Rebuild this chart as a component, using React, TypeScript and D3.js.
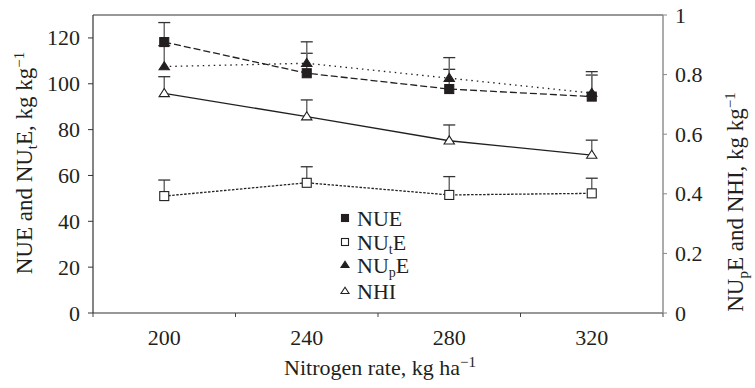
import React, { useEffect } from "react";
import * as d3 from "d3";

const rates = [200, 240, 280, 320];
const nue = [118.2, 104.6, 97.7, 94.4];
const nueErr = [8.5, 8.7, 8.6, 9.4];
const nute = [51.0, 56.8, 51.5, 52.2];
const nuteErr = [7.0, 7.0, 8.0, 6.6];
const nupe = [0.827, 0.838, 0.788, 0.738];
const nupeErr = [0.07, 0.072, 0.069, 0.072];
const nhi = [0.737, 0.659, 0.578, 0.53];
const nhiErr = [0.056, 0.056, 0.053, 0.05];

const xTickMarks = [180, 220, 260, 300, 340];
const xTickLabels = [200, 240, 280, 320];
const leftTicks = [0, 20, 40, 60, 80, 100, 120];
const rightTicks = [0, 0.2, 0.4, 0.6, 0.8, 1];

const W = 755, H = 388;
const L = 93, R = 663, T = 15, B = 313;
const INK = "#231f20";
const FF = '"Liberation Serif"';
const TS = { fontFamily: FF };

function T2(props: any) {
  return <text fontFamily="Liberation Serif" style={TS} {...props} />;
}

export default function App() {
  useEffect(() => {
    document.body.style.margin = "0";
  }, []);

  const x = d3.scaleLinear().domain([180, 340]).range([L, R]);
  const yL = d3.scaleLinear().domain([0, 130]).range([B, T]);
  const yR = d3.scaleLinear().domain([0, 1]).range([B, T]);

  const series = [
    { name: "NUE", vals: nue, err: nueErr, y: yL, marker: "sqFill", dash: "7,3" },
    { name: "NUtE", vals: nute, err: nuteErr, y: yL, marker: "sqOpen", dash: "2.5,1.5" },
    { name: "NUpE", vals: nupe, err: nupeErr, y: yR, marker: "triFill", dash: "1.5,4" },
    { name: "NHI", vals: nhi, err: nhiErr, y: yR, marker: "triOpen", dash: null },
  ];

  const marker = (kind: string, cx: number, cy: number, s: number, key: string) => {
    if (kind === "sqFill" || kind === "sqOpen") {
      return (
        <rect key={key} x={cx - s / 2} y={cy - s / 2} width={s} height={s}
          fill={kind === "sqFill" ? INK : "#fff"} stroke={INK} strokeWidth={1.1} />
      );
    }
    const h = s * 0.9;
    const w = s * 1.15;
    const pts = `${cx},${cy - h * 0.6} ${cx - w / 2},${cy + h * 0.4} ${cx + w / 2},${cy + h * 0.4}`;
    return (
      <polygon key={key} points={pts} fill={kind === "triFill" ? INK : "#fff"}
        stroke={INK} strokeWidth={1.1} strokeLinejoin="miter" />
    );
  };

  const legendRows = [
    { kind: "sqFill", y: 218, label: <tspan>NUE</tspan> },
    { kind: "sqOpen", y: 242, label: <><tspan>NU</tspan><tspan dy={4} fontSize={14}>t</tspan><tspan dy={-4}>E</tspan></> },
    { kind: "triFill", y: 265, label: <><tspan>NU</tspan><tspan dy={4} fontSize={14}>p</tspan><tspan dy={-4}>E</tspan></> },
    { kind: "triOpen", y: 291, label: <tspan>NHI</tspan> },
  ];

  return (
    <svg width={W} height={H} overflow="visible"
      style={{ display: "block", overflow: "visible", background: "#fff", fontFamily: FF }}
      fontFamily="Liberation Serif" fill={INK}>
      <style>{`text, tspan { font-family: "Liberation Serif", serif !important; }`}</style>
      {/* frame */}
      <line x1={L} x2={R} y1={T} y2={T} stroke="#333" strokeWidth={1.2} />
      <line x1={L} x2={L} y1={T} y2={B} stroke="#333" strokeWidth={1.2} />
      <line x1={L} x2={R} y1={B} y2={B} stroke="#333" strokeWidth={1.2} />
      <line x1={R} x2={R} y1={T} y2={B} stroke="#888" strokeWidth={1.4} />

      {/* x ticks */}
      {xTickMarks.map((t) => (
        <line key={"xt" + t} x1={x(t)} x2={x(t)} y1={B} y2={B + 4} stroke="#444" strokeWidth={1} />
      ))}
      {xTickLabels.map((t) => (
        <T2 key={"xl" + t} x={x(t)} y={345} textAnchor="middle" fontSize={22}>{t}</T2>
      ))}
      {/* left ticks */}
      {leftTicks.map((t) => (
        <g key={"lt" + t}>
          <line x1={L - 5} x2={L} y1={yL(t)} y2={yL(t)} stroke="#333" strokeWidth={1} />
          <T2 x={80} y={yL(t) + 7.5} textAnchor="end" fontSize={22}>{t}</T2>
        </g>
      ))}
      {/* right ticks */}
      {rightTicks.map((t) => (
        <g key={"rt" + t}>
          <line x1={R} x2={R + 4} y1={yR(t)} y2={yR(t)} stroke="#888" strokeWidth={1} />
          <T2 x={675} y={yR(t) + 7.5} textAnchor="start" fontSize={22}>{d3.format("~g")(t)}</T2>
        </g>
      ))}

      {/* axis titles */}
      <T2 x={380} y={375} textAnchor="middle" fontSize={22}>
        <tspan>Nitrogen rate, kg ha</tspan><tspan dy={-8} fontSize={15}>−1</tspan>
      </T2>
      <T2 transform={`translate(32,163) rotate(-90)`} textAnchor="middle" fontSize={23}>
        <tspan>NUE and NU</tspan><tspan dy={5} fontSize={15}>t</tspan><tspan dy={-5}>E, kg kg</tspan>
        <tspan dy={-8} fontSize={15}>−1</tspan>
      </T2>
      <T2 transform={`translate(743,202) rotate(-90)`} textAnchor="middle" fontSize={23}>
        <tspan>NU</tspan><tspan dy={5} fontSize={15}>p</tspan><tspan dy={-5}>E and NHI, kg kg</tspan>
        <tspan dy={-8} fontSize={15}>−1</tspan>
      </T2>

      {/* lines */}
      {series.map((s) => {
        const line = d3.line<number>().x((_, i) => x(rates[i])).y((v) => s.y(v));
        return (
          <path key={"ln" + s.name} d={line(s.vals) || ""} fill="none" stroke={INK}
            strokeWidth={1.3} strokeDasharray={s.dash || undefined} />
        );
      })}

      {/* error bars */}
      {series.map((s) =>
        s.vals.map((v, i) => {
          const cx = x(rates[i]);
          const y0 = s.y(v);
          const y1 = s.y(v + s.err[i]);
          return (
            <g key={"eb" + s.name + i}>
              <line x1={cx} x2={cx} y1={y0} y2={y1} stroke="#6e6e6e" strokeWidth={1.5} />
              <line x1={cx - 6} x2={cx + 6} y1={y1} y2={y1} stroke="#333" strokeWidth={1.3} />
            </g>
          );
        })
      )}

      {/* markers */}
      {series.map((s) =>
        s.vals.map((v, i) => marker(s.marker, x(rates[i]), s.y(v), 9, "mk" + s.name + i))
      )}

      {/* legend */}
      {legendRows.map((r, i) => (
        <g key={"lg" + i}>
          {marker(r.kind, 345, r.y, 7, "lm" + i)}
          <T2 x={357} y={r.y + 7.5} fontSize={22}>{r.label}</T2>
        </g>
      ))}
    </svg>
  );
}
